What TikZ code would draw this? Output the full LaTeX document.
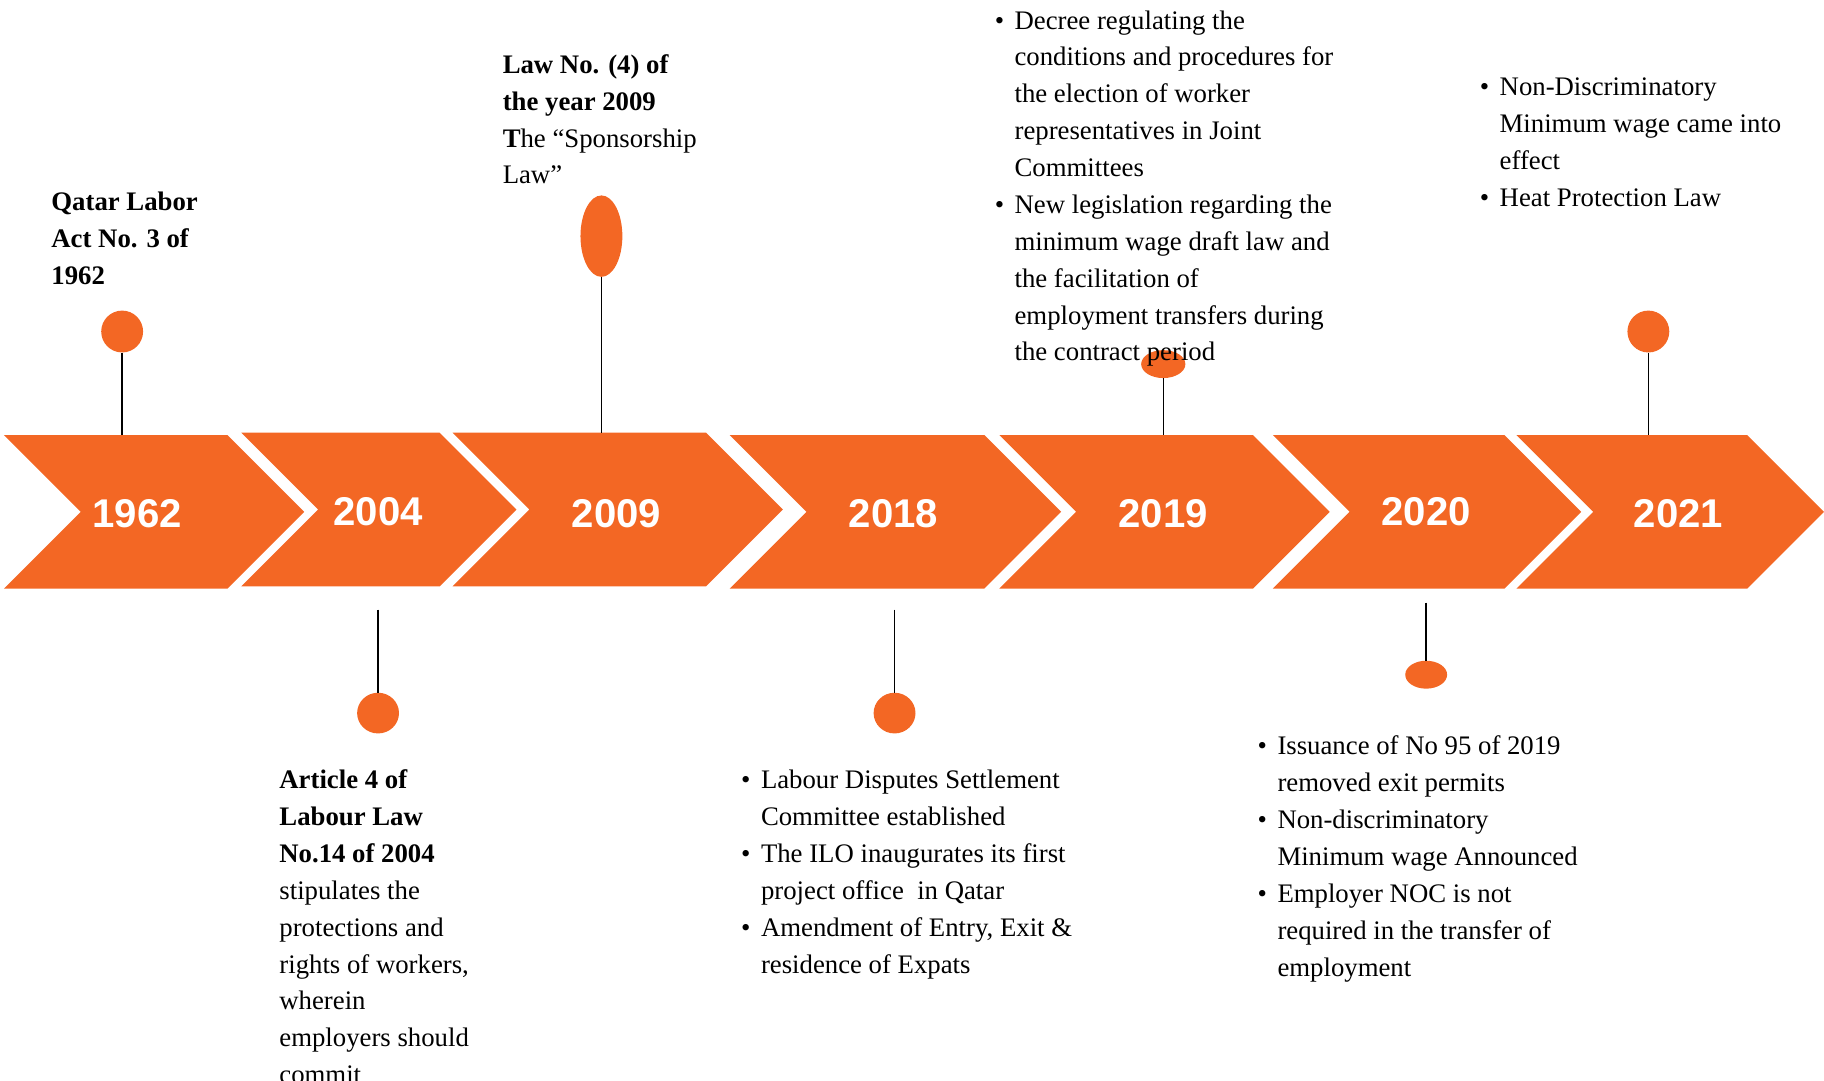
\documentclass[tikz,border=0pt]{standalone}
\usepackage{fontspec}
\setmainfont{Liberation Serif}
\newfontfamily\yearfamily{Liberation Sans}
\usetikzlibrary{shapes.geometric}
\definecolor{tlorange}{RGB}{243,103,36}

% body text: 23pt on a 31.7pt line pitch
\newcommand\bodyfont{\fontsize{23}{31.7}\selectfont}
% one bulleted item as a hanging paragraph, its lines set by hand
\newcommand\bitem[1]{\par\hangindent=17pt\hangafter=1\noindent
  \makebox[17pt][l]{\textbullet}#1}

\tikzset{
  chevfill/.style={fill=tlorange, draw=none},
  yearlabel/.style={text=white, inner sep=0pt,
    font=\yearfamily\bfseries\fontsize{34.5}{34.5}\selectfont},
  pin/.style={ellipse, fill=tlorange, draw=none, inner sep=0pt},
  stem/.style={draw=black, line width=1.3pt},
  txt/.style={anchor=base west, inner sep=0pt, font=\bodyfont},
}

\begin{document}
\begin{tikzpicture}[x=1pt, y=-1pt]
\useasboundingbox (0,0) rectangle (1568,929);
\clip (0,0) rectangle (1568,929);

% chevron band: left edge / right shoulder / top / bottom
\foreach \l/\r/\t/\b in {3.4/195.5/374/506, 207.4/378/372/504, 389/607/372/504,
                         627.3/846.2/374/506, 859.1/1077.1/374/506,
                         1094.2/1293.3/374/506, 1303.6/1502/374/506}{
  \fill[chevfill] (\l,\t) -- (\r,\t) -- ({\r+66},{(\t+\b)/2}) -- (\r,\b)
                  -- (\l,\b) -- ({\l+66},{(\t+\b)/2}) -- cycle;
}

% year labels
\node[yearlabel] (y1962) at (118,442) {1962};
\node[yearlabel] (y2004) at (325,440) {2004};
\node[yearlabel] (y2009) at (530,442) {2009};
\node[yearlabel] (y2018) at (768,442) {2018};
\node[yearlabel] (y2019) at (1000,442) {2019};
\node[yearlabel] (y2020) at (1226,440) {2020};
\node[yearlabel] (y2021) at (1443,442) {2021};

% pins
\node[pin, minimum width=36pt, minimum height=36pt] (p1962) at (105,285) {};
\node[pin, minimum width=36pt, minimum height=35pt] (p2004) at (325,613) {};
\node[pin, minimum width=36pt, minimum height=70pt] (p2009) at (517,203) {};
\node[pin, minimum width=36pt, minimum height=35pt] (p2018) at (769,613) {};
\node[pin, minimum width=38pt, minimum height=24pt] (p2019) at (1000,313) {};
\node[pin, minimum width=36pt, minimum height=24pt] (p2020) at (1226,580) {};
\node[pin, minimum width=36pt, minimum height=36pt] (p2021) at (1417,285) {};

% stem ends on or near the band
\coordinate (b1962) at (105,374);
\coordinate (b2004) at (325,524);
\coordinate (b2009) at (517,372);
\coordinate (b2018) at (769,524);
\coordinate (b2019) at (1000,374);
\coordinate (b2020) at (1226,518);
\coordinate (b2021) at (1417,374);

\draw[stem] (p1962.south) -- (b1962);
\draw[stem] (b2004) -- (p2004.north);
\draw[stem] (p2009.south) -- (b2009);
\draw[stem] (b2018) -- (p2018.north);
\draw[stem] (p2019.south) -- (b2019);
\draw[stem] (b2020) -- (p2020.north);
\draw[stem] (p2021.south) -- (b2021);

% texts
\node[txt] (t1962) at (44,181) {\parbox[t]{200pt}{\bfseries
  Qatar Labor\\Act No. 3 of\\1962}};

\node[txt] (t2009) at (432,63) {\parbox[t]{220pt}{{\bfseries
  Law No. (4) of\\the year 2009\\T}he “Sponsorship\\Law”}};

\node[txt] (t2019) at (855,25) {\parbox[t]{420pt}{%
  \bitem{Decree regulating the\\conditions and procedures for\\the election of worker\\representatives in Joint\\Committees}
  \bitem{New legislation regarding the\\minimum wage draft law and\\the facilitation of\\employment transfers during\\the contract period}}};

\node[txt] (t2021) at (1272,82) {\parbox[t]{320pt}{%
  \bitem{Non-Discriminatory\\Minimum wage came into\\effect}
  \bitem{Heat Protection Law}}};

\node[txt] (t2004) at (240,678) {\parbox[t]{220pt}{{\bfseries
  Article 4 of\\Labour Law\\No.14 of 2004}\\stipulates the\\protections and\\rights of workers,\\wherein\\employers should\\commit}};

\node[txt] (t2018) at (637,678) {\parbox[t]{380pt}{%
  \bitem{Labour Disputes Settlement\\Committee established}
  \bitem{The ILO inaugurates its first\\project office~ in Qatar}
  \bitem{Amendment of Entry, Exit \&\\residence of Expats}}};

\node[txt] (t2020) at (1081,649) {\parbox[t]{380pt}{%
  \bitem{Issuance of No 95 of 2019\\removed exit permits}
  \bitem{Non-discriminatory\\Minimum wage Announced}
  \bitem{Employer NOC is not\\required in the transfer of\\employment}}};

\end{tikzpicture}
\end{document}
